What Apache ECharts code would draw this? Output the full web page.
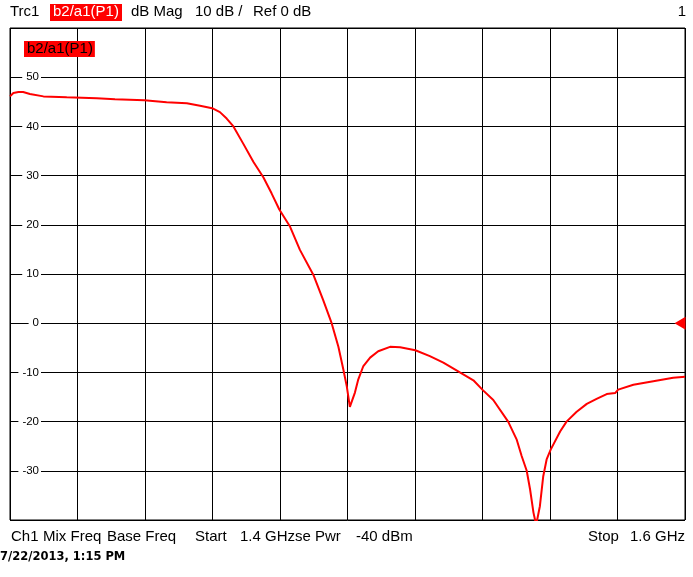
<!DOCTYPE html>
<html>
<head>
<meta charset="utf-8">
<script src="https://cdn.jsdelivr.net/npm/echarts@6/dist/echarts.min.js"></script>
<style>html,body{margin:0;padding:0;background:#fff}#c{width:693px;height:577px}</style>
</head>
<body>
<div id="c"></div>
<script>
// Frequency in MHz
const freqMHz = [1400.0,1401.0,1402.5,1403.9,1405.9,1409.9,1416.8,1425.7,1431.1,1439.8,1446.4,1452.4,1456.3,1459.9,1462.2,1464.2,1466.2,1469.1,1472.1,1475.1,1477.5,1479.8,1483.0,1485.9,1489.9,1492.8,1495.3,1497.3,1498.8,1499.8,1500.7,1502.2,1503.2,1504.7,1506.7,1509.1,1512.6,1515.6,1520.1,1524.4,1528.4,1533.3,1537.3,1540.1,1543.2,1547.6,1550.1,1551.6,1553.1,1554.1,1555.1,1555.9,1557.0,1558.0,1559.0,1560.2,1563.0,1564.9,1567.9,1570.9,1573.8,1576.8,1579.3,1580.2,1584.7,1590.6,1596.5,1600.0];
// b2/a1(P1) magnitude in dB
const magDb = [46.1,46.8,47.0,47.0,46.6,46.1,45.9,45.7,45.5,45.3,44.9,44.7,44.2,43.7,42.9,41.6,40.0,36.5,32.8,29.6,26.4,23.1,19.6,14.9,9.8,4.7,0.0,-4.8,-9.5,-12.9,-17.0,-14.1,-11.4,-8.7,-7.0,-5.7,-4.8,-4.9,-5.5,-6.7,-8.0,-10.0,-11.6,-13.6,-15.6,-20.0,-23.6,-27.0,-30.0,-33.8,-38.5,-41.0,-37.2,-31.1,-27.7,-25.7,-22.0,-20.0,-18.0,-16.4,-15.4,-14.4,-14.2,-13.5,-12.5,-11.8,-11.1,-10.9];
const traceName = 'b2/a1(P1)';
const yMin = -40, yMax = 60, yStep = 10;
const xMin = 1400, xMax = 1600, xStep = 20;
const refLevel = 0;

const FONT = '"Liberation Sans", Arial, sans-serif';
const chart = echarts.init(document.getElementById('c'), null, {renderer: 'canvas'});
const pts = freqMHz.map((f, i) => [f, magDb[i]]);
const T = (x, y, s, extra) => Object.assign({type: 'text', left: x, top: y, style: {text: s, font: '15px ' + FONT, fill: '#000'}}, extra || {});

chart.setOption({
  animation: false,
  backgroundColor: '#fff',
  grid: {left: 10, right: 8, top: 28, bottom: 57, show: true, borderColor: '#000', borderWidth: 1, backgroundColor: 'transparent'},
  legend: {
    left: 14, top: 36, icon: 'none', itemWidth: 0, itemHeight: 0, itemGap: 0,
    data: [traceName],
    textStyle: {color: '#000', fontFamily: FONT, fontSize: 15, backgroundColor: '#ff0000', padding: [0, 2, 0, 3], lineHeight: 16}
  },
  xAxis: {
    type: 'value', min: xMin, max: xMax, interval: xStep,
    axisLine: {show: false}, axisTick: {show: false}, axisLabel: {show: false},
    splitLine: {show: true, lineStyle: {color: '#000', width: 1}}
  },
  yAxis: {
    type: 'value', min: yMin, max: yMax, interval: yStep,
    axisLine: {show: false}, axisTick: {show: false},
    axisLabel: {
      inside: true, margin: 31, align: 'right', showMinLabel: false, showMaxLabel: false,
      color: '#000', fontFamily: FONT, fontSize: 11.5, backgroundColor: '#fff', padding: [0, 2, 0, 4]
    },
    splitLine: {show: true, lineStyle: {color: '#000', width: 1}},
    z: 3
  },
  series: [{
    name: traceName, type: 'line', data: pts, showSymbol: false, clip: true,
    lineStyle: {color: '#ff0000', width: 2}, itemStyle: {color: '#ff0000'},
    markPoint: {
      symbol: 'triangle', symbolSize: [13, 11], symbolRotate: 90, symbolOffset: [-5, 0],
      itemStyle: {color: '#ff0000'}, label: {show: false},
      data: [{coord: [xMax, refLevel]}]
    }
  }],
  graphic: [
    T(10, 4, 'Trc1'),
    {type: 'rect', left: 50, top: 4, shape: {width: 72, height: 17}, style: {fill: '#ff0000'}},
    T(53, 4, 'b2/a1(P1)', {style: {text: 'b2/a1(P1)', font: '15px ' + FONT, fill: '#fff'}}),
    T(131, 4, 'dB Mag'),
    T(195, 4, '10 dB /'),
    T(253, 4, 'Ref 0 dB'),
    {type: 'text', right: 7, top: 4, style: {text: '1', font: '15px ' + FONT, fill: '#000'}},
    T(11, 529, 'Ch1'),
    T(43, 529, 'Mix Freq'),
    T(107, 529, 'Base Freq'),
    T(195, 529, 'Start'),
    T(240, 529, '1.4 GHzse Pwr'),
    T(356, 529, '-40 dBm'),
    T(588, 529, 'Stop'),
    {type: 'text', right: 8, top: 529, style: {text: '1.6 GHz', font: '15px ' + FONT, fill: '#000'}},
    {type: 'text', left: 0, top: 551, style: {text: '7/22/2013, 1:15 PM', font: 'bold 11.5px "DejaVu Sans", sans-serif', fill: '#000'}}
  ]
});
</script>
</body>
</html>
